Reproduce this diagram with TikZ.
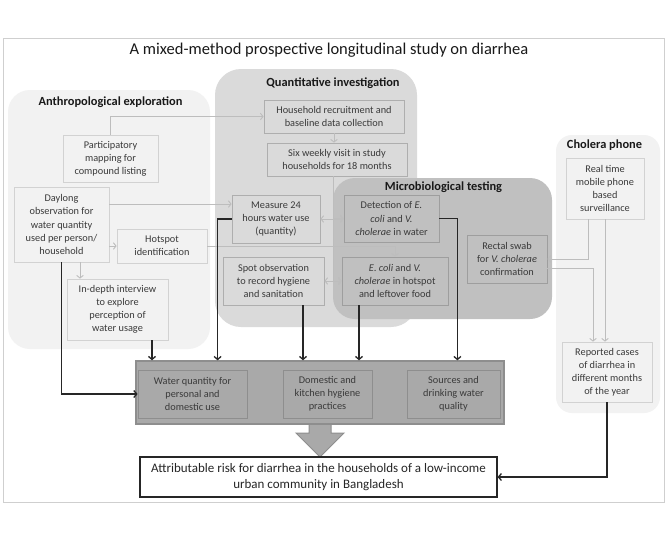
\documentclass[tikz,border=0pt]{standalone}
\usepackage{fontspec}
\setmainfont{Carlito}
\usetikzlibrary{arrows.meta,calc}
\definecolor{regA}{HTML}{F2F2F2}
\definecolor{regQ}{HTML}{DADADA}
\definecolor{regM}{HTML}{C0C0C0}
\definecolor{outF}{HTML}{A9A9A9}
\definecolor{bordA}{HTML}{D2D2D2}
\definecolor{bordQ}{HTML}{AEAEAE}
\definecolor{bordM}{HTML}{9E9E9E}
\definecolor{bordO}{HTML}{8E8E8E}
\definecolor{lineL}{HTML}{BDBDBD}
\definecolor{lineD}{HTML}{262626}
\definecolor{txt}{HTML}{3A3A3A}
\definecolor{frameC}{HTML}{CFCFCF}
\tikzset{
  bx/.style={draw, rectangle, inner sep=0pt, align=center, text=txt,
    font=\fontsize{10.3}{13.1}\selectfont, line width=0.8pt},
  bA/.style={bx, fill=regA, draw=bordA},
  bQ/.style={bx, fill=regQ, draw=bordQ},
  bM/.style={bx, fill=regM, draw=bordM},
  bO/.style={bx, fill=outF, draw=bordO},
  rtitle/.style={font=\bfseries\fontsize{12.4}{14}\selectfont, text=black!90, inner sep=0pt},
  lt/.style={draw=lineL, line width=0.9pt, >={Straight Barb[length=2.6pt,width=6.5pt]}},
  dk/.style={draw=lineD, line width=1.3pt, >={Straight Barb[length=3pt,width=7pt]}},
}
\begin{document}
\begin{tikzpicture}[x=1pt,y=-1pt]
\useasboundingbox (0,0) rectangle (666,542);
\fill[white] (0,0) rectangle (666,542);
% frame
\draw[frameC, line width=1pt] (3,38) rectangle (664,502);
\node[font=\fontsize{16.5}{18}\selectfont, inner sep=0pt, text=black!90] (title) at (329,50) {A mixed-method prospective longitudinal study on diarrhea};
% regions
\fill[regA, rounded corners=22pt] (8,90) rectangle (210,349);
\fill[regQ, rounded corners=26pt] (215,69) rectangle (417,327);
\fill[regA, rounded corners=16pt] (556,135) rectangle (660,413);
\fill[regM, rounded corners=22pt] (333,178) rectangle (552,319);
\node[rtitle] (tA) at (110.5,102) {Anthropological exploration};
\node[rtitle] (tQ) at (333,83) {Quantitative investigation};
\node[rtitle] (tM) at (443.5,187) {Microbiological testing};
\node[rtitle] (tC) at (604.5,145) {Cholera phone};
% anthropological boxes
\node[bA, minimum width=95pt, minimum height=47pt] (part) at (110.5,158.5) {Participatory\\mapping for\\compound listing};
\node[bA, minimum width=95pt, minimum height=75pt] (day) at (61.5,224.5) {Daylong\\observation for\\water quantity\\used per person/\\household};
\node[bA, minimum width=90pt, minimum height=34pt] (hot) at (162,246) {Hotspot\\identification};
\node[bA, minimum width=101pt, minimum height=61pt] (indepth) at (117.5,309.5) {In-depth interview\\to explore\\perception of\\water usage};
% quantitative boxes
\node[bQ, minimum width=140pt, minimum height=33pt] (hh) at (334,116.5) {Household recruitment and\\baseline data collection};
\node[bQ, minimum width=140pt, minimum height=33pt] (six) at (337,159.5) {Six weekly visit in study\\households for 18 months};
\node[bQ, minimum width=88pt, minimum height=48pt] (meas) at (276,219) {Measure 24\\hours water use\\(quantity)};
\node[bQ, minimum width=101pt, minimum height=48pt] (spot) at (273.5,281) {Spot observation\\to record hygiene\\and sanitation};
% micro boxes
\node[bM, minimum width=95pt, minimum height=47pt] (det) at (391.5,218.5) {Detection of \textit{E.}\\\textit{coli} and \textit{V.}\\\textit{cholerae} in water};
\node[bM, minimum width=106pt, minimum height=48pt] (ecoli) at (395,281) {\textit{E. coli} and \textit{V.}\\\textit{cholerae} in hotspot\\and leftover food};
\node[bM, minimum width=80pt, minimum height=48pt] (rect) at (507,259) {Rectal swab\\for \textit{V. cholerae}\\confirmation};
% cholera phone boxes
\node[bA, minimum width=78pt, minimum height=61pt] (real) at (605,188.5) {Real time\\mobile phone\\based\\surveillance};
\node[bA, minimum width=90pt, minimum height=60pt] (rep) at (607,372) {Reported cases\\of diarrhea in\\different months\\of the year};
% big arrow
\fill[outF] (309,423) -- (309,433) -- (296,433) -- (320,457) -- (344,433) -- (331,433) -- (331,423) -- cycle;
\draw[bordO, line width=1pt, line join=miter] (309,424) -- (309,433) -- (296,433) -- (320,457) -- (344,433) -- (331,433) -- (331,424);
% outcomes
\node[draw=bordO, fill=outF, line width=1.4pt, minimum width=368pt, minimum height=63pt, inner sep=0pt] (outer) at (320,392.5) {};
\node[bO, minimum width=109pt, minimum height=48pt] (wq) at (192.5,394) {Water quantity for\\personal and\\domestic use};
\node[bO, minimum width=89pt, minimum height=48pt] (dom) at (327.5,394) {Domestic and\\kitchen hygiene\\practices};
\node[bO, minimum width=93pt, minimum height=48pt] (src) at (453.5,394) {Sources and\\drinking water\\quality};
\node[draw=black!85, fill=white, line width=1.2pt, minimum width=357pt, minimum height=40pt, inner sep=0pt, align=center, font=\fontsize{13}{16}\selectfont, text=black!85] (att) at (318.5,477) {Attributable risk for diarrhea in the households of a low-income\\urban community in Bangladesh};
% light connectors
\draw[lt,->] (part.north) |- (hh.west);
\draw[lt,->] (hh.south) -- (hh.south |- six.north);
\draw[lt,->] ([yshift=20.5pt]day.east) coordinate (d1) -- (d1 -| meas.west);
\draw[lt,->] ([xshift=18.5pt]day.south) coordinate (d2) -- (d2 |- indepth.north);
\draw[lt,->] (day.east |- hot.west) -- (hot.west);
\draw[lt,->] (hot.east) -- (hot.east -| ecoli.north) -- (ecoli.north);
\draw[lt] ([xshift=-4pt]six.south) coordinate (s1) -- (s1 |- ecoli.west);
\draw[lt,->] (s1 |- det.west) -- (det.west);
\draw[lt,->] (s1 |- ecoli.west) -- (ecoli.west);
\draw[lt,<->] (meas.east) -- (meas.east -| det.west);
\draw[lt,<->] (spot.east) -- (spot.east -| ecoli.west);
\draw[lt,->] ([xshift=-17pt]real.south) |- (rect.east);
\draw[lt,->] (real.south) -- (real.south |- rep.north);
\draw[lt,->] ([yshift=-9pt]rect.east) -| ([xshift=-14pt]rep.north);
% dark connectors
\draw[dk,->] (day.south) |- (wq.west);
\draw[dk,->] ([xshift=34.5pt]indepth.south) coordinate (i1) -- (i1 |- outer.north);
\draw[dk,->] (meas.west) -- ++(-14,0) coordinate (m1) -- (m1 |- outer.north);
\draw[dk,->] ([xshift=29.5pt]spot.south) coordinate (sp) -- (sp |- outer.north);
\draw[dk,->] ([xshift=-36pt]ecoli.south) coordinate (ec) -- (ec |- outer.north);
\draw[dk,->] (det.east) -- ++(18,0) coordinate (de) -- (de |- outer.north);
\draw[dk,->] (rep.south) |- (att.east);
\end{tikzpicture}
\end{document}
